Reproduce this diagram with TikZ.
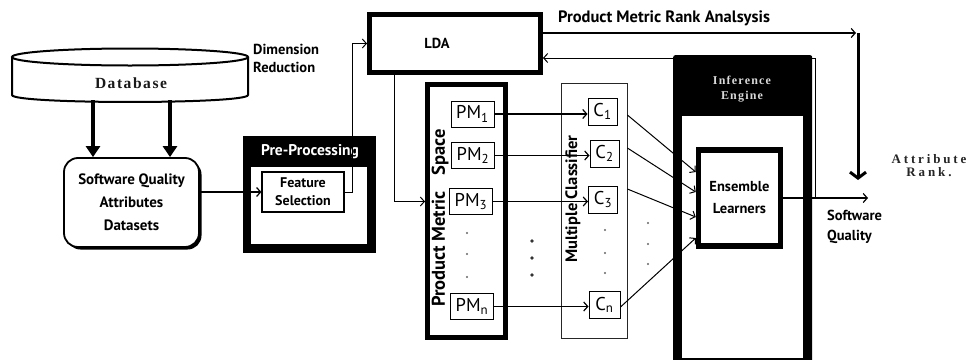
\documentclass[tikz,border=0pt]{standalone}
\usepackage{fontspec}
\setmainfont{PT Sans}
\newfontfamily\serifsp{Liberation Serif}[LetterSpace=10]
\newfontfamily\serifwide{Liberation Serif}[LetterSpace=22]
\usetikzlibrary{arrows.meta,calc,shadows}
\begin{document}
\begin{tikzpicture}[x=1pt,y=-1pt,
  lbl/.style={font=\bfseries\fontsize{14.5}{18}\selectfont, align=center, inner sep=0},
  arr/.style={line width=1.2pt,-{Straight Barb[length=4pt,width=9pt]}},
  thinarr/.style={line width=1pt,-{Straight Barb[length=4pt,width=9pt]}},
  pmbox/.style={draw, line width=1pt, fill=white, minimum width=43pt, minimum height=26pt, inner sep=0, font=\fontsize{18.5}{18}\selectfont},
  cbox/.style={draw, line width=1pt, fill=white, minimum width=29pt, minimum height=27pt, inner sep=0, font=\fontsize{18.5}{18}\selectfont},
  smalldot/.style={circle, fill=black!60, inner sep=0, minimum size=2.4pt},
  bigdot/.style={circle, fill=black!80, inner sep=0, minimum size=3.6pt},
  thickbox/.style={draw, line width=5pt, fill=white, inner sep=0},
  blackbox/.style={fill=black, inner sep=0},
]
\useasboundingbox (0,0) rectangle (974,359);
\fill[white] (0,0) rectangle (974,359);

% Database cylinder
\draw[line width=2pt, fill=white] (12,57) -- (12,95) .. controls (12,104.3) and (248,104.3) .. (248,95) -- (248,57);
\draw[line width=2pt] (130,57) ellipse [x radius=118pt, y radius=8.5pt];
\node[font=\serifsp\bfseries\fontsize{15.5}{15}\selectfont, text=black!90] (db) at (131,83) {Database};

% Software quality attributes datasets
\node[draw, line width=1.8pt, rounded corners=14pt, minimum width=135pt, minimum height=89pt, fill=white,
      align=center, font=\bfseries\fontsize{15}{23}\selectfont, inner sep=0,
      drop shadow={shadow xshift=2.5pt, shadow yshift=-2.5pt, fill=black, opacity=1}] (sqa) at (131.5,202.5)
      {Software Quality\\Attributes\\Datasets};
\coordinate (d1) at (93,100);
\coordinate (d2) at (170,100);
\draw[line width=4pt, -{Triangle[length=11pt,width=14pt]}] (d1) -- (d1 |- sqa.north);
\draw[line width=4pt, -{Triangle[length=11pt,width=14pt]}] (d2) -- (d2 |- sqa.north);

\node[lbl, anchor=north west, align=left] (dimred) at (253,44) {Dimension\\Reduction};

% Pre-processing
\node[blackbox, minimum width=133pt, minimum height=117pt] (pp) at (309.5,194.5) {};
\fill[white] (251,167) rectangle (367,244);
\node[font=\bfseries\fontsize{15.5}{15}\selectfont, text=white, inner sep=0] (pptitle) at (310,152) {Pre-Processing};
\node[draw, line width=1.2pt, fill=white, minimum width=82pt, minimum height=40pt, inner sep=0, align=center,
      font=\bfseries\fontsize{14}{18}\selectfont] (fs) at (303,192) {Feature\\Selection};
\draw[arr] (sqa.east |- fs.west) -- (fs.west);

% LDA
\node[thickbox, minimum width=171pt, minimum height=58pt] (lda) at (455,43.5) {};
\node[lbl] (ldatext) at (437,43) {LDA};
\draw[thinarr] (fs.east) -- ++(8,0) |- (lda.west);

% Product metric space
\node[thickbox, minimum width=78pt, minimum height=253pt] (pms) at (466.5,211) {};
\node[lbl, rotate=90, font=\bfseries\fontsize{18.5}{18}\selectfont] (pmslabel) at (440,218) {Product Metric\hspace{16pt}Space};
\node[pmbox] (PM1) at (472.5,114) {PM\textsubscript{1}};
\node[pmbox] (PM2) at (473,155.5) {PM\textsubscript{2}};
\node[pmbox] (PM3) at (471,201.5) {PM\textsubscript{3}};
\node[pmbox] (PMn) at (472,306.5) {PM\textsubscript{n}};
\draw[thinarr] ($(lda.south west)+(27,0)$) |- (PM3.west -| pms.west);

% Multiple classifier
\node[draw=black!85, line width=0.8pt, minimum width=66pt, minimum height=255pt, inner sep=0] (mc) at (594,210.5) {};
\node[lbl, rotate=90, font=\bfseries\fontsize{16.5}{16}\selectfont] (mclabel) at (573,199) {Multiple Classifier};
\node[cbox] (C1) at (602.5,111.5) {C\textsubscript{1}};
\node[cbox] (C2) at (604.5,153.5) {C\textsubscript{2}};
\node[cbox] (C3) at (603,199.5) {C\textsubscript{3}};
\node[cbox, minimum width=31pt] (Cn) at (604.5,305) {C\textsubscript{n}};

\draw[arr] (PM1.east) -- (PM1.east -| C1.west);
\draw[arr] (PM2.east) -- (PM2.east -| C2.west);
\draw[arr] (PM3.east) -- (PM3.east -| C3.west);
\draw[arr] (PMn.east) -- (PMn.east -| Cn.west);

% dots
\node[smalldot] (pa) at (467,233) {};
\node[smalldot] (pb) at (467,254) {};
\node[smalldot] (pc) at (467,277) {};
\node[bigdot] (ma) at (532,241) {};
\node[bigdot] (mb) at (532,258) {};
\node[bigdot] (mcd) at (532,275) {};
\node[smalldot] (ca) at (605,230) {};
\node[smalldot] (cb) at (605,253) {};
\node[smalldot] (cc) at (605,273) {};
\node[smalldot] (ra) at (648,223) {};
\node[smalldot] (rb) at (648,244) {};
\node[smalldot] (rc) at (648,264) {};

% Inference engine
\node[blackbox, rounded corners=2pt, minimum width=139pt, minimum height=310pt, anchor=north west] (ie) at (673,55) {};
\fill[white] (682,116) rectangle (803,358);
\node[font=\serifsp\bfseries\fontsize{12}{15}\selectfont, text=white!85!black, align=center] (ietitle) at (742,89) {Inference\\Engine};
\node[thickbox, line width=5.5pt, minimum width=82pt, minimum height=96pt, align=center,
      font=\bfseries\fontsize{14.5}{22}\selectfont] (el) at (739.5,198) {Ensemble\\Learners};

\draw[thinarr] ($(C1.east -| mc.east)+(0,3.5)$) -- ($(el.west)+(0,-26)$);
\draw[thinarr] ($(C2.east -| mc.east)+(0,-5.5)$) -- ($(el.west)+(0,-6)$);
\draw[thinarr] ($(C3.east -| mc.east)+(0,-10.5)$) -- ($(el.west)+(0,19)$);
\draw[thinarr] ($(Cn.east)+(0,2)$) -- ($(el.west)+(0,40)$);

% outputs
\coordinate (sq) at (868,198);
\coordinate (fb) at (815,198);
\coordinate (rk) at (858,33);
\coordinate (rkend) at (858,180);
\draw[arr] (el.east) -- (sq);
\draw[thinarr] (fb) |- ($(lda.east)+(0,14.5)$);
\draw[arr] ($(lda.east)+(0,-10.5)$) -- ([xshift=-2pt]rk);
\draw[line width=3pt, -{Straight Barb[length=6pt,width=16pt]}] (rk) -- (rkend);

\node[lbl, font=\bfseries\fontsize{16.5}{18}\selectfont] (pmra) at (664,18) {Product Metric Rank Analsysis};
\node[lbl, anchor=west, align=left, font=\bfseries\fontsize{14.5}{20}\selectfont] (swq) at (827,227) {Software\\Quality};
\node[font=\serifwide\bfseries\fontsize{13}{13}\selectfont, text=black!85, align=center, inner sep=0] (ar) at (929,166) {Attribute\\Rank.};
\end{tikzpicture}
\end{document}
